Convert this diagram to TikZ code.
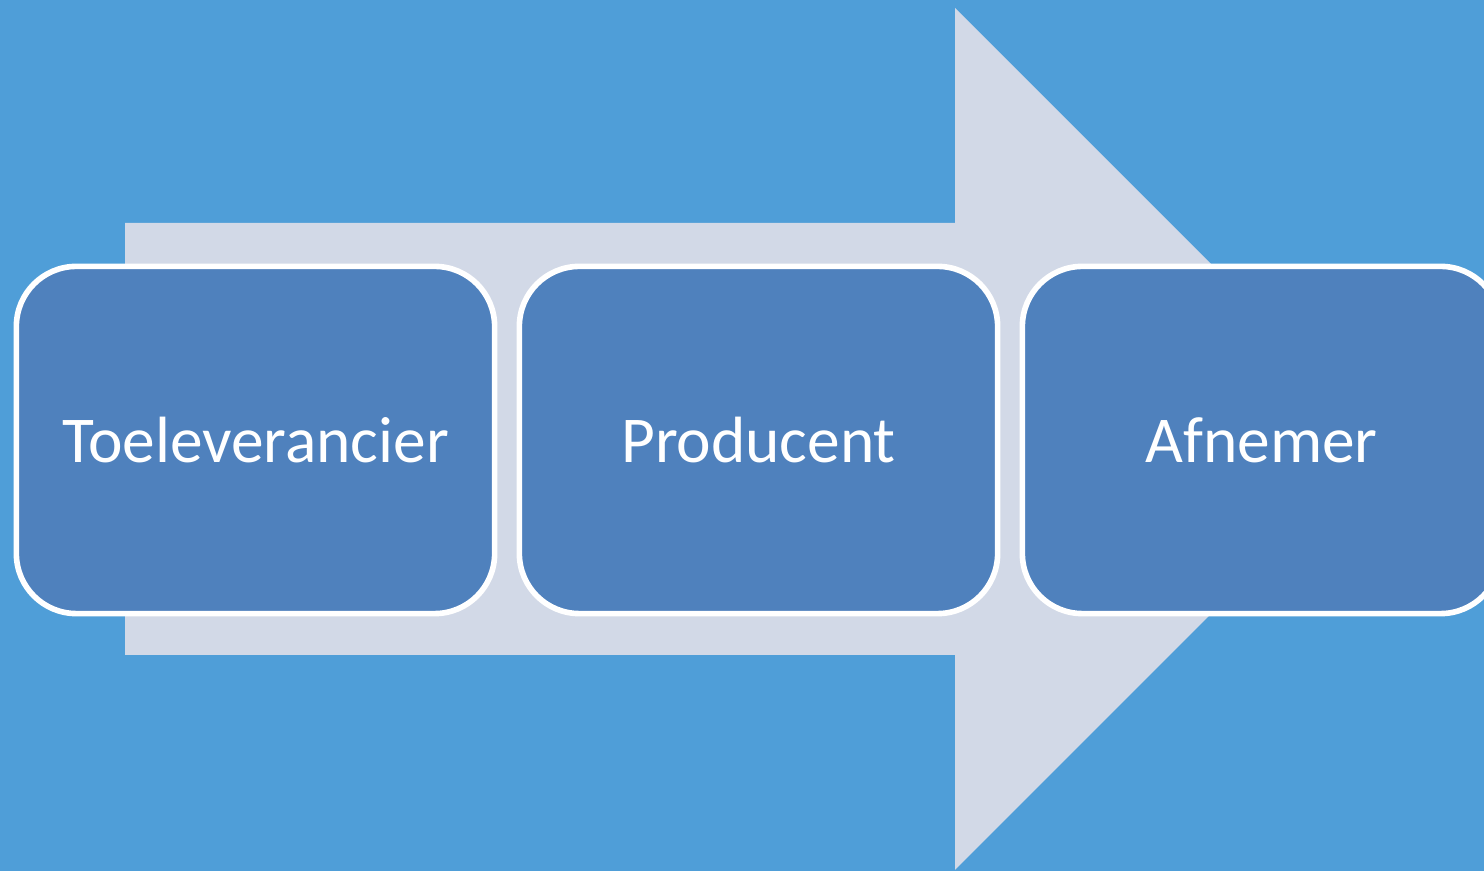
\documentclass[tikz,border=0pt]{standalone}
\usepackage{fontspec}
\setmainfont{Carlito}
\usetikzlibrary{calc}
\definecolor{bgblue}{HTML}{4F9ED8}
\definecolor{arrowgrey}{HTML}{D2D9E7}
\definecolor{boxblue}{HTML}{4F81BD}
\begin{document}
\begin{tikzpicture}[x=0.01cm,y=-0.01cm,
  stagebox/.style={rectangle,rounded corners=0.6cm,draw=white,line width=1.6pt,
    fill=boxblue,minimum width=4.78cm,minimum height=3.47cm,
    text=white,font=\fontsize{18.6}{22}\selectfont}]
  \fill[bgblue] (0,0) rectangle (1484,871);
  \clip (0,0) rectangle (1484,871);
  % big arrow behind the stages
  \fill[arrowgrey] (125,223) -- (955,223) -- (955,8) -- (1386,439)
    -- (955,870) -- (955,655) -- (125,655) -- cycle;
  \foreach \name [count=\i from 0] in {Toeleverancier,Producent,Afnemer}
    \node [stagebox] (s\i) at (255.5+503*\i,440) {\name};
\end{tikzpicture}
\end{document}
